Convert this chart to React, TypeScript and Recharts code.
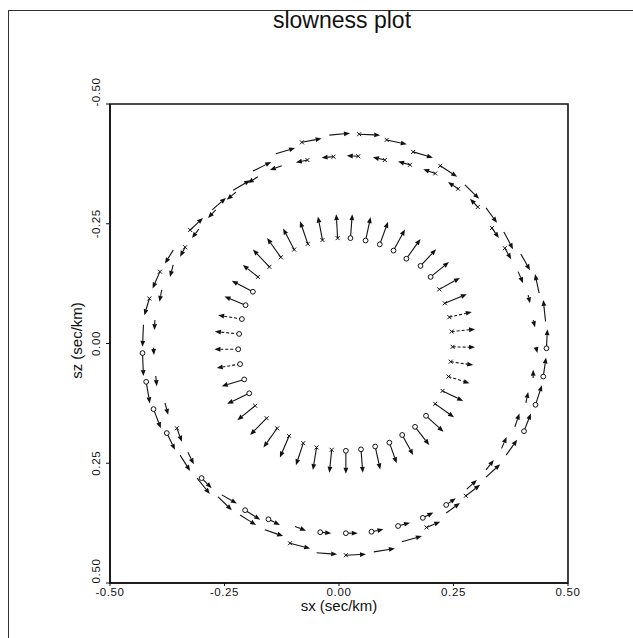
import React from 'react';
import { ScatterChart, XAxis, YAxis, ReferenceLine, ReferenceArea, Label } from 'recharts';

// Each vector: [tail sx, tail sz, head sx, head sz, marker at tail, dashed shaft]
type Vec = [number, number, number, number, string, number?];

const axisTicks = [-0.5, -0.25, 0, 0.25, 0.5];
const titleText = 'slowness plot';
const xLabel = 'sx (sec/km)';
const yLabel = 'sz (sec/km)';

// outermost sheet
const outerArrows: Vec[] = [
  [-0.325, -0.237, -0.297, -0.262, 'x'],
  [-0.277, -0.279, -0.247, -0.304, ''],
  [-0.231, -0.32, -0.194, -0.341, ''],
  [-0.188, -0.36, -0.148, -0.379, ''],
  [-0.138, -0.396, -0.096, -0.408, ''],
  [-0.081, -0.42, -0.038, -0.428, 'x'],
  [-0.021, -0.435, 0.024, -0.439, ''],
  [0.044, -0.437, 0.09, -0.435, 'x'],
  [0.104, -0.425, 0.148, -0.416, 'x'],
  [0.162, -0.4, 0.205, -0.388, 'x'],
  [0.221, -0.371, 0.258, -0.348, 'x'],
  [0.275, -0.331, 0.306, -0.302, ''],
  [0.321, -0.283, 0.345, -0.252, ''],
  [0.36, -0.233, 0.38, -0.197, ''],
  [0.397, -0.187, 0.417, -0.153, ''],
  [0.437, -0.105, 0.428, -0.145, ''],
  [0.451, -0.046, 0.446, -0.091, ''],
  [0.453, 0.01, 0.455, -0.03, 'o'],
  [0.446, 0.069, 0.452, 0.029, 'o'],
  [0.429, 0.128, 0.443, 0.087, 'o'],
  [0.404, 0.183, 0.419, 0.146, 'o'],
  [0.365, 0.233, 0.389, 0.201, ''],
  [0.321, 0.279, 0.352, 0.252, ''],
  [0.277, 0.318, 0.308, 0.295, 'x'],
  [0.234, 0.354, 0.264, 0.333, ''],
  [0.191, 0.384, 0.221, 0.372, 'x'],
  [0.137, 0.414, 0.181, 0.402, ''],
  [0.076, 0.435, 0.122, 0.428, ''],
  [0.015, 0.442, 0.059, 0.44, 'x'],
  [-0.049, 0.437, -0.004, 0.44, ''],
  [-0.107, 0.417, -0.063, 0.428, 'x'],
  [-0.162, 0.389, -0.122, 0.402, ''],
  [-0.216, 0.358, -0.181, 0.379, ''],
  [-0.264, 0.32, -0.234, 0.348, ''],
  [-0.31, 0.281, -0.282, 0.314, ''],
  [-0.347, 0.233, -0.325, 0.266, ''],
  [-0.376, 0.187, -0.358, 0.222, 'o'],
  [-0.405, 0.137, -0.389, 0.177, 'o'],
  [-0.421, 0.08, -0.413, 0.125, 'o'],
  [-0.429, 0.02, -0.427, 0.068, 'o'],
  [-0.427, -0.039, -0.429, 0.007, ''],
  [-0.414, -0.094, -0.425, -0.059, 'x'],
  [-0.391, -0.15, -0.407, -0.115, 'x'],
  [-0.362, -0.195, -0.38, -0.167, ''],
];

// middle sheet
const middleArrows: Vec[] = [
  [-0.362, -0.164, -0.369, -0.139, ''],
  [-0.387, -0.112, -0.392, -0.087, ''],
  [-0.402, -0.049, -0.403, -0.028, ''],
  [-0.405, 0.009, -0.404, 0.024, ''],
  [-0.4, 0.068, -0.398, 0.089, ''],
  [-0.38, 0.124, -0.373, 0.149, ''],
  [-0.354, 0.177, -0.343, 0.205, 'x'],
  [-0.33, 0.227, -0.317, 0.252, ''],
  [-0.3, 0.281, -0.278, 0.302, 'o'],
  [-0.256, 0.316, -0.223, 0.334, ''],
  [-0.205, 0.348, -0.172, 0.368, 'o'],
  [-0.154, 0.367, -0.129, 0.379, 'o'],
  [-0.096, 0.382, -0.072, 0.391, ''],
  [-0.041, 0.394, -0.017, 0.396, 'o'],
  [0.015, 0.396, 0.041, 0.396, 'o'],
  [0.071, 0.393, 0.097, 0.388, 'o'],
  [0.129, 0.381, 0.155, 0.374, 'o'],
  [0.183, 0.364, 0.206, 0.353, 'o'],
  [0.234, 0.337, 0.255, 0.323, 'o'],
  [0.279, 0.304, 0.301, 0.285, ''],
  [0.321, 0.264, 0.338, 0.243, ''],
  [0.355, 0.219, 0.366, 0.195, ''],
  [0.384, 0.174, 0.394, 0.146, ''],
  [0.408, 0.124, 0.413, 0.101, ''],
  [0.424, 0.072, 0.424, 0.055, ''],
  [0.43, 0.007, 0.433, 0.02, ''],
  [0.424, -0.049, 0.428, -0.034, ''],
  [0.413, -0.101, 0.417, -0.084, ''],
  [0.391, -0.15, 0.402, -0.126, ''],
  [0.362, -0.199, 0.376, -0.176, 'x'],
  [0.334, -0.241, 0.349, -0.22, 'x'],
  [0.303, -0.285, 0.286, -0.302, 'x'],
  [0.26, -0.323, 0.238, -0.337, 'x'],
  [0.21, -0.355, 0.184, -0.364, 'x'],
  [0.155, -0.373, 0.129, -0.38, 'x'],
  [0.1, -0.383, 0.074, -0.389, 'x'],
  [0.042, -0.391, 0.017, -0.392, 'x'],
  [-0.012, -0.39, -0.038, -0.388, 'x'],
  [-0.069, -0.383, -0.094, -0.378, 'x'],
  [-0.125, -0.371, -0.151, -0.362, ''],
  [-0.177, -0.348, -0.199, -0.335, ''],
  [-0.225, -0.316, -0.245, -0.3, ''],
  [-0.269, -0.279, -0.286, -0.262, ''],
  [-0.306, -0.239, -0.321, -0.22, ''],
  [-0.336, -0.201, -0.347, -0.181, 'x'],
];

// inner sheet, vectors pointing away from the curve
const innerArrows: Vec[] = [
  [-0.152, -0.16, -0.188, -0.196, 'x'],
  [-0.127, -0.18, -0.157, -0.22, 'x'],
  [-0.098, -0.196, -0.122, -0.24, 'x'],
  [-0.068, -0.208, -0.085, -0.255, 'x'],
  [-0.036, -0.216, -0.046, -0.265, 'x'],
  [-0.003, -0.22, -0.006, -0.27, 'x'],
  [0.025, -0.22, 0.029, -0.27, 'o'],
  [0.058, -0.215, 0.069, -0.264, 'o'],
  [0.089, -0.207, 0.107, -0.254, 'o'],
  [0.119, -0.194, 0.144, -0.238, 'o'],
  [0.147, -0.177, 0.178, -0.218, 'o'],
  [0.178, -0.162, 0.212, -0.197, 'o'],
  [0.2, -0.139, 0.24, -0.17, 'o'],
  [0.219, -0.113, 0.264, -0.137, 'x'],
  [0.231, -0.084, 0.279, -0.103, 'x'],
  [0.241, -0.055, 0.29, -0.066, 'x', 1],
  [0.246, -0.025, 0.297, -0.03, 'x', 1],
  [0.248, 0.007, 0.297, 0.008, 'x', 1],
  [0.244, 0.038, 0.293, 0.045, 'x', 1],
  [0.239, 0.069, 0.285, 0.083, 'x', 1],
  [0.226, 0.099, 0.271, 0.12, 'x'],
  [0.21, 0.126, 0.251, 0.154, 'x'],
  [0.19, 0.151, 0.228, 0.184, 'o'],
  [0.166, 0.174, 0.197, 0.212, 'o'],
  [0.138, 0.191, 0.162, 0.233, 'o'],
  [0.11, 0.207, 0.126, 0.25, 'o'],
  [0.079, 0.215, 0.09, 0.263, 'o'],
  [0.048, 0.221, 0.052, 0.27, 'o'],
  [0.015, 0.224, 0.015, 0.272, 'o'],
  [-0.016, 0.222, -0.021, 0.27, 'x'],
  [-0.049, 0.217, -0.057, 0.264, 'x'],
  [-0.078, 0.208, -0.094, 0.254, 'x'],
  [-0.109, 0.193, -0.129, 0.238, 'x'],
  [-0.135, 0.177, -0.165, 0.217, 'x'],
  [-0.158, 0.156, -0.194, 0.191, 'x'],
  [-0.183, 0.13, -0.222, 0.16, 'x'],
  [-0.196, 0.104, -0.244, 0.126, 'o'],
  [-0.207, 0.075, -0.256, 0.089, 'o'],
  [-0.216, 0.043, -0.267, 0.051, 'o', 1],
  [-0.22, 0.012, -0.272, 0.012, 'o', 1],
  [-0.218, -0.02, -0.271, -0.025, 'o', 1],
  [-0.212, -0.051, -0.264, -0.059, 'o', 1],
  [-0.204, -0.08, -0.25, -0.098, 'o'],
  [-0.188, -0.108, -0.234, -0.131, 'o'],
  [-0.177, -0.139, -0.21, -0.164, 'x'],
];

const INK = '#111';
const FONT = '"Liberation Sans", Arial, sans-serif';

const VectorMark = (props: any) => {
  const { x1, y1, x2, y2, mark, dashed } = props;
  if ([x1, y1, x2, y2].some((v) => typeof v !== 'number' || isNaN(v))) return null;
  const dx = x2 - x1;
  const dy = y2 - y1;
  const len = Math.hypot(dx, dy) || 1;
  const ux = dx / len;
  const uy = dy / len;
  const hl = Math.min(6, len);
  const hw = 2.4;
  const bx = x2 - ux * hl;
  const by = y2 - uy * hl;
  const head = `${x2},${y2} ${bx - uy * hw},${by + ux * hw} ${bx + uy * hw},${by - ux * hw}`;
  return (
    <g>
      <line x1={x1} y1={y1} x2={bx} y2={by} stroke={INK} strokeWidth={1.1} strokeDasharray={dashed ? '3 2' : undefined} />
      <polygon points={head} fill={INK} />
      {mark === 'o' && <circle cx={x1} cy={y1} r={2.4} fill="#fff" stroke={INK} strokeWidth={1} />}
      {mark === 'x' && (
        <path d={`M${x1 - 2},${y1 - 2}L${x1 + 2},${y1 + 2}M${x1 - 2},${y1 + 2}L${x1 + 2},${y1 - 2}`} stroke={INK} strokeWidth={1} />
      )}
    </g>
  );
};

const fmt = (v: number) => v.toFixed(2);

// end labels sit just above their tick, the inner ones are centred on it
const YTick = (props: any) => {
  const { x, y, payload } = props;
  const v = payload.value;
  const shift = Math.abs(v) === 0.5 ? -12 : 0;
  return (
    <text
      transform={`translate(${x - 8},${y + shift}) rotate(-90)`}
      textAnchor="middle"
      dominantBaseline="central"
      fontSize={11.5}
      letterSpacing={0.6}
      fill={INK}
      fontFamily={FONT}
    >
      {fmt(v)}
    </text>
  );
};

const YTitle = (props: any) => {
  const { viewBox } = props;
  if (!viewBox) return null;
  const cx = viewBox.x + 28;
  const cy = viewBox.y + viewBox.height / 2 - 3;
  return (
    <text transform={`translate(${cx},${cy}) rotate(-90)`} textAnchor="middle" dominantBaseline="central" fontSize={15} fill={INK} fontFamily={FONT}>
      {yLabel}
    </text>
  );
};

export default function App() {
  const vectors = [...outerArrows, ...middleArrows, ...innerArrows];
  return (
    <div style={{ position: 'fixed', left: 0, top: 0, width: 633, height: 638, overflow: 'hidden', background: '#fff', fontFamily: FONT }}>
      <div style={{ position: 'absolute', left: 8, top: 10, width: 625, height: 628, borderTop: '1.5px solid #333', borderLeft: '1.5px solid #333' }} />
      <div style={{ position: 'absolute', left: 222, top: 6, width: 240, textAlign: 'center', fontSize: 23, lineHeight: '28px', color: INK }}>
        {titleText}
      </div>
      <div style={{ position: 'absolute', left: 8, top: 8 }}>
        <ScatterChart width={625} height={630} margin={{ top: 96, right: 65, bottom: 0, left: 40 }}>
          <XAxis
            type="number"
            dataKey="x"
            domain={[-0.5, 0.5]}
            ticks={axisTicks}
            tickFormatter={fmt}
            allowDataOverflow
            height={55}
            tickSize={3}
            tickMargin={2}
            axisLine={{ stroke: INK, strokeWidth: 1.5 }}
            tickLine={{ stroke: INK }}
            tick={{ fontSize: 11.5, fill: INK, fontFamily: FONT, letterSpacing: 0.6 }}
          >
            <Label value={xLabel} position="insideBottom" offset={27} style={{ fontSize: 15, fill: INK, fontFamily: FONT }} />
          </XAxis>
          <YAxis
            type="number"
            dataKey="y"
            domain={[-0.5, 0.5]}
            ticks={axisTicks}
            reversed
            allowDataOverflow
            width={62}
            tickSize={4}
            tickMargin={2}
            axisLine={{ stroke: INK, strokeWidth: 1.5 }}
            tickLine={{ stroke: INK }}
            tick={(p: any) => <YTick {...p} />}
          >
            <Label content={(p: any) => <YTitle {...p} />} />
          </YAxis>
          <ReferenceArea x1={-0.5} x2={0.5} y1={-0.5} y2={0.5} fill="none" stroke={INK} strokeWidth={1.6} ifOverflow="visible" />
          {vectors.map((a, i) => (
            <ReferenceLine
              key={i}
              segment={[{ x: a[0], y: a[1] }, { x: a[2], y: a[3] }]}
              ifOverflow="visible"
              shape={(p: any) => <VectorMark {...p} mark={a[4]} dashed={a[5]} />}
            />
          ))}
        </ScatterChart>
      </div>
    </div>
  );
}
